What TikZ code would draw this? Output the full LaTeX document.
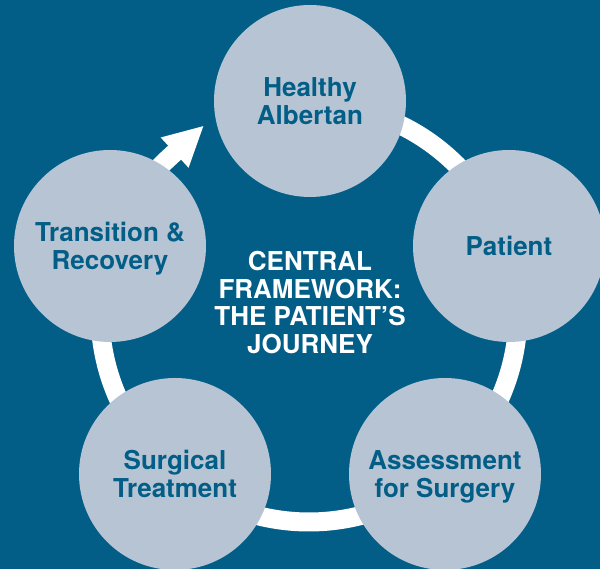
\documentclass[tikz,border=0pt]{standalone}
\usepackage{fontspec}
\setmainfont{TeX Gyre Heros}
\usetikzlibrary{arrows.meta}
\definecolor{ahsblue}{RGB}{2,94,135}
\definecolor{ahsgrey}{RGB}{183,196,211}

\begin{document}
\begin{tikzpicture}[
    x=1pt,y=1pt,
    stage/.style={circle,fill=ahsgrey,minimum size=192pt,inner sep=0pt,align=center,text=ahsblue,text depth=0pt,font=\bfseries\fontsize{26}{28}\selectfont},
    ring/.style={draw=white,line width=19pt,-{Triangle[width=38pt,length=40pt]}}
]
\fill[ahsblue] (0,0) rectangle (600,569);
\useasboundingbox (0,0) rectangle (600,569);
\coordinate (hub) at (309,256);
\draw[ring] (hub) ++(90:209) arc[start angle=90,end angle=-227.3,radius=209] -- ++(42.7:50);
\node[stage] (healthy) at (310,468) {Healthy\\Albertan};
\node[stage] (patient) at (509,323) {Patient};
\node[stage] (assess) at (445,95) {Assessment\\for Surgery};
\node[stage] (surgery) at (175,95) {Surgical\\Treatment};
\node[stage] (recovery) at (110,323) {Transition \&\\Recovery};
\node[align=center,text=white,font=\bfseries\fontsize{26}{27.7}\selectfont] (journey) at (310,266.5) {CENTRAL\\FRAMEWORK:\\THE PATIENT’S\\JOURNEY};
\end{tikzpicture}
\end{document}
